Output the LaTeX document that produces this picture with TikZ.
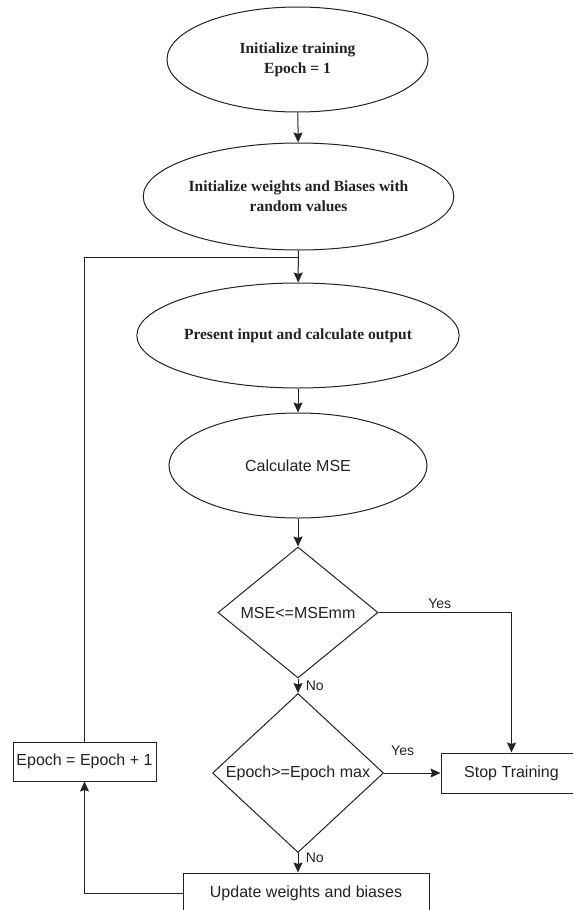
\documentclass[tikz,border=0pt]{standalone}
\usepackage{fontspec}
\setmainfont{Liberation Serif}
\setsansfont{Liberation Sans}
\usetikzlibrary{shapes.geometric,arrows.meta}
\definecolor{ink}{HTML}{222222}

\begin{document}
\begin{tikzpicture}[x=1pt,y=-1pt,
        >={Stealth[length=10pt,width=9pt,inset=1.5pt]},
        line width=1pt,draw=ink,text=ink,
        oval/.style={draw=ink,ellipse,inner sep=0pt,align=center,font=\fontsize{15.5}{20}\selectfont\bfseries},
        ovalsf/.style={draw=ink,ellipse,inner sep=0pt,font=\fontsize{16}{19}\selectfont\sffamily},
        decide/.style={draw=ink,diamond,inner sep=0pt,font=\fontsize{16}{19}\selectfont\sffamily},
        box/.style={draw=ink,rectangle,inner sep=0pt,font=\fontsize{16}{19}\selectfont\sffamily},
        lbl/.style={font=\fontsize{14}{16}\selectfont\sffamily}]
        \useasboundingbox (0,0) rectangle (573,910);
        \clip (0,0) rectangle (573,910);
        \node[oval,minimum width=261pt,minimum height=105pt] (init) at (297.5,59.5) {Initialize training\\Epoch = 1};
        \node[oval,minimum width=263pt,minimum height=107pt] (weights) at (298.5,196.5) {Initialize weights and Biases with\\random values};
        \node[oval,minimum width=260pt,minimum height=105pt] (present) at (298,335.5) {Present input and calculate output};
        \node[ovalsf,minimum width=258pt,minimum height=105pt] (mse) at (298,465.5) {Calculate MSE};
        \node[decide,minimum width=160pt,minimum height=131pt] (chkmse) at (298,612.5) {MSE<=MSEmm};
        \node[decide,minimum width=171pt,minimum height=137pt] (chkepoch) at (298,773) {Epoch>=Epoch max};
        \node[box,minimum width=141pt,minimum height=40pt] (stop) at (511.5,773) {Stop Training};
        \node[box,minimum width=143pt,minimum height=39pt] (incr) at (84.5,761.5) {Epoch = Epoch + 1};
        \node[box,minimum width=246pt,minimum height=40pt] (update) at (306,893) {Update weights and biases};
        \coordinate (loop) at (298,257);
        \draw[->] (init) -- (weights);
        \draw[->] (weights) -- (present);
        \draw[->] (present) -- (mse);
        \draw[->] (mse) -- (chkmse);
        \draw[->] (chkmse.east) -| node[lbl,pos=0.23,above]{Yes} (stop.north);
        \draw[->] (chkmse) -- node[lbl,right=4pt]{No} (chkepoch);
        \draw[->] (chkepoch.east) -- node[lbl,pos=0.33,above=14pt]{Yes} (stop.west);
        \draw[->] (chkepoch.south) -- node[lbl,pos=0.25,right=4pt]{No} (chkepoch.south |- update.north);
        \draw[->] (update.west) -| (incr.south);
        \draw (incr.north) |- (loop);
    \end{tikzpicture}
\end{document}
